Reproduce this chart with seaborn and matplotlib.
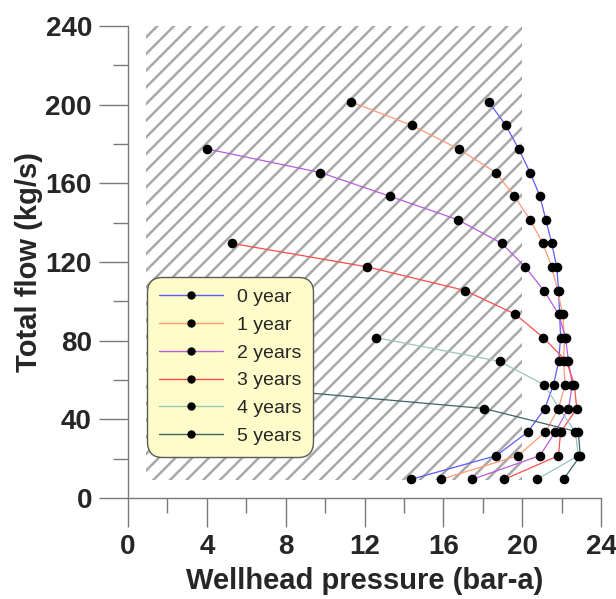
import matplotlib
matplotlib.use("Agg")
import matplotlib.pyplot as plt
import numpy as np
import pandas as pd
import seaborn as sns
from matplotlib.patches import Rectangle
from matplotlib.lines import Line2D
from matplotlib.ticker import MultipleLocator

# ---------------- data ----------------
series_names = ["0 year", "1 year", "2 years", "3 years", "4 years", "5 years"]
series_colors = ["#5a5aff", "#ff9a78", "#b85ce0", "#ff4c4c", "#98c4c0", "#3f6565"]

flow_levels = [9.5, 21.5, 33.5, 45.5, 57.5, 69.5, 81.5, 93.5, 105.5,
               117.5, 129.5, 141.5, 153.5, 165.5, 177.5, 189.5, 201.5]

p_year0 = [14.37, 18.68, 20.28, 21.15, 21.59, 21.85, 21.95, 21.90, 21.85,
           21.75, 21.50, 21.20, 20.90, 20.40, 19.82, 19.17, 18.30]
p_year1 = [15.89, 19.78, 21.17, 21.84, 22.18, 22.10, 22.15, 22.05, 21.80,
           21.50, 21.05, 20.40, 19.60, 18.66, 16.77, 14.40, 11.30]
p_year2 = [17.47, 20.90, 21.67, 22.35, 22.55, 22.35, 22.20, 21.85, 21.10,
           20.15, 18.96, 16.73, 13.27, 9.76, 4.00]
p_year3 = [19.10, 21.84, 21.95, 22.77, 22.65, 22.25, 21.08, 19.64, 17.10,
           12.15, 5.26]
p_year4 = [20.75, 22.85, 22.70, 21.88, 21.13, 18.85, 12.60]
p_year5 = [22.10, 22.95, 22.85, 18.07, 4.60]

pressures = [p_year0, p_year1, p_year2, p_year3, p_year4, p_year5]

# region hatched on the chart (pressure, flow)
hatch_p = [0.9, 20.0]
hatch_q = [9.0, 240.0]

x_ticks = [0, 4, 8, 12, 16, 20, 24]
y_ticks = [0, 40, 80, 120, 160, 200, 240]

rows = []
for name, ps in zip(series_names, pressures):
    for q, p in zip(flow_levels, ps):
        rows.append({"series": name, "pressure": p, "flow": q})
df = pd.DataFrame(rows)

# ---------------- style ----------------
sns.set_style("white")
plt.rcParams['font.family'] = ['Liberation Sans', 'DejaVu Sans']
plt.rcParams['hatch.color'] = '#a8a8a8'
plt.rcParams['hatch.linewidth'] = 1.8

fig = plt.figure(figsize=(6.16, 5.99), dpi=100)
ax = fig.add_axes([128/616, 101/599, (601-128)/616, (498-26)/599])

ax.add_patch(Rectangle((hatch_p[0], hatch_q[0]), hatch_p[1]-hatch_p[0],
                       hatch_q[1]-hatch_q[0], facecolor='none',
                       edgecolor='#a8a8a8', lw=0, hatch='//', zorder=0))

palette = dict(zip(series_names, series_colors))
sns.lineplot(data=df, x='pressure', y='flow', hue='series',
             hue_order=series_names, palette=palette, sort=False,
             estimator=None, lw=0.9, legend=False, ax=ax, zorder=2)
sns.scatterplot(data=df, x='pressure', y='flow', color='black', s=48,
                edgecolor='black', linewidth=0, legend=False, ax=ax, zorder=3)

ax.set_xlim(0, 24)
ax.set_ylim(0, 240)
ax.set_xticks(x_ticks)
ax.set_yticks(y_ticks)
ax.xaxis.set_minor_locator(MultipleLocator(2))
ax.yaxis.set_minor_locator(MultipleLocator(20))
ax.grid(False)
for s in ['top', 'right']:
    ax.spines[s].set_visible(False)
for s in ['left', 'bottom']:
    ax.spines[s].set_color('#7a7a7a')
    ax.spines[s].set_linewidth(1.0)

ax.tick_params(which='both', bottom=True, left=True, direction='out',
               color='#7a7a7a', width=1.0)
ax.tick_params(which='major', length=21, labelsize=20, pad=5)
ax.tick_params(which='minor', length=11)
for lab in ax.get_xticklabels() + ax.get_yticklabels():
    lab.set_fontweight('bold')

ax.set_xlabel("Wellhead pressure (bar-a)", fontsize=21, fontweight='bold', labelpad=5)
ax.set_ylabel("Total flow (kg/s)", fontsize=21, fontweight='bold', labelpad=2)

handles = [Line2D([], [], color=c, lw=1.0, marker='o', ms=5, mfc='k', mec='k')
           for c in series_colors]
leg = ax.legend(handles, series_names, loc='lower left',
                bbox_to_anchor=(0.04, 0.087), borderaxespad=0, fontsize=14,
                frameon=True, fancybox=True, facecolor='#fefcc8',
                edgecolor='#5a5a5a', framealpha=1, handlelength=3.3,
                handletextpad=0.7, labelspacing=0.52, borderpad=0.62)
leg.get_frame().set_boxstyle('round', pad=0, rounding_size=0.8)
leg.get_frame().set_linewidth(1.0)
leg.set_zorder(5)

fig.savefig("out.png", dpi=100)
